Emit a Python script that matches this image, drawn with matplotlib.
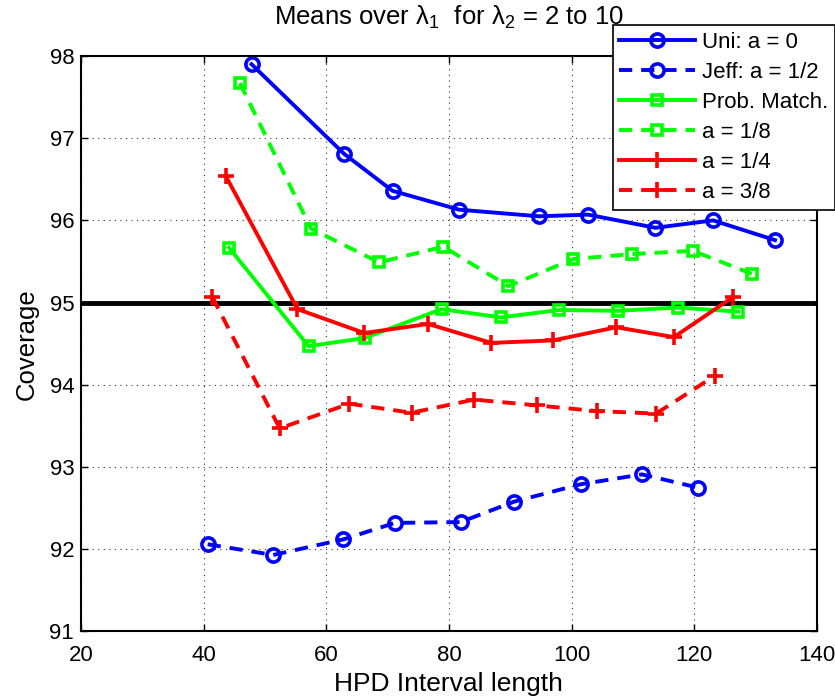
import matplotlib
matplotlib.use("Agg")
import matplotlib.pyplot as plt

plt.rcParams['font.family'] = ['Liberation Sans', 'DejaVu Sans']
plt.rcParams['mathtext.fontset'] = 'custom'
plt.rcParams['mathtext.rm'] = 'Liberation Sans'

# Data
uni_x = [47.8, 62.9, 70.8, 81.7, 94.7, 102.7, 113.7, 123.1, 133.2]
uni_y = [97.90, 96.81, 96.36, 96.13, 96.05, 96.07, 95.91, 96.00, 95.76]

jeff_x = [40.65, 51.35, 62.8, 71.2, 81.9, 90.7, 101.5, 111.5, 120.6]
jeff_y = [92.06, 91.93, 92.12, 92.32, 92.33, 92.58, 92.79, 92.91, 92.75]

pm_x = [44.1, 57.1, 66.3, 78.8, 88.5, 98.0, 107.6, 117.3, 127.2]
pm_y = [95.67, 94.47, 94.57, 94.92, 94.82, 94.91, 94.90, 94.94, 94.89]

a18_x = [45.9, 57.5, 68.6, 79.1, 89.7, 100.3, 109.8, 119.8, 129.4]
a18_y = [97.67, 95.90, 95.49, 95.68, 95.20, 95.53, 95.59, 95.63, 95.35]

a14_x = [43.6, 55.3, 66.2, 76.6, 86.9, 97.0, 107.3, 116.7, 126.4]
a14_y = [96.54, 94.92, 94.63, 94.74, 94.51, 94.54, 94.70, 94.58, 95.07]

a38_x = [41.4, 52.4, 63.75, 73.9, 84.1, 94.3, 104.1, 113.8, 123.4]
a38_y = [95.07, 93.47, 93.77, 93.66, 93.82, 93.75, 93.68, 93.65, 94.11]

labels = ["Uni: a = 0", "Jeff: a = 1/2", "Prob. Match.", "a = 1/8", "a = 1/4", "a = 3/8"]
nominal = 95
xticks = [20, 40, 60, 80, 100, 120, 140]
yticks = [91, 92, 93, 94, 95, 96, 97, 98]

W, H = 835, 698
fig = plt.figure(figsize=(W / 100, H / 100), dpi=100)
ax = fig.add_axes([81.1 / W, 1 - 631.4 / H, (816.7 - 81.1) / W, (631.4 - 56) / H])

lw = 2.8
dash = (0, (3.4, 2.3))
common = dict(linewidth=lw, markeredgewidth=2.6, markerfacecolor='none')

h1, = ax.plot(uni_x, uni_y, color=(0, 0, 1), linestyle='-', marker='o', markersize=9.5, **common)
h2, = ax.plot(jeff_x, jeff_y, color=(0, 0, 1), linestyle=dash, marker='o', markersize=9.5, **common)
h3, = ax.plot(pm_x, pm_y, color=(0, 1, 0), linestyle='-', marker='s', markersize=7, **common)
h4, = ax.plot(a18_x, a18_y, color=(0, 1, 0), linestyle=dash, marker='s', markersize=7, **common)
h5, = ax.plot(a14_x, a14_y, color=(1, 0, 0), linestyle='-', marker='+', markersize=11, **common)
h6, = ax.plot(a38_x, a38_y, color=(1, 0, 0), linestyle=dash, marker='+', markersize=11, **common)

ax.axhline(nominal, color='black', linewidth=3.5, zorder=1)

ax.set_xlim(20, 140)
ax.set_ylim(91, 98)
ax.set_xticks(xticks)
ax.set_yticks(yticks)
ax.grid(True, linestyle=(0, (1, 4)), color='black', linewidth=0.8, alpha=0.8)
ax.tick_params(direction='in', length=5, width=1, top=True, right=True, labelsize=16)
ax.tick_params(axis='x', pad=10)
ax.tick_params(axis='y', pad=5)
for s in ax.spines.values():
    s.set_linewidth(1.5)

ax.set_xlabel("HPD Interval length", fontsize=19, labelpad=4)
ax.set_ylabel("Coverage", fontsize=18.5, labelpad=8)
ax.set_title("Means over λ$_1$  for λ$_2$ = 2 to 10", fontsize=18.5, pad=23)

leg = fig.legend([h1, h2, h3, h4, h5, h6], labels, loc='upper left',
                 bbox_to_anchor=(612.7 / W, 1 - 25 / H), bbox_transform=fig.transFigure,
                 fontsize=16, numpoints=1, handlelength=3.4, handletextpad=0.3,
                 labelspacing=0.41, borderpad=0.3, borderaxespad=0, fancybox=False,
                 framealpha=1, edgecolor='black')
leg.get_frame().set_linewidth(1.2)

fig.savefig("out.png", dpi=100)
